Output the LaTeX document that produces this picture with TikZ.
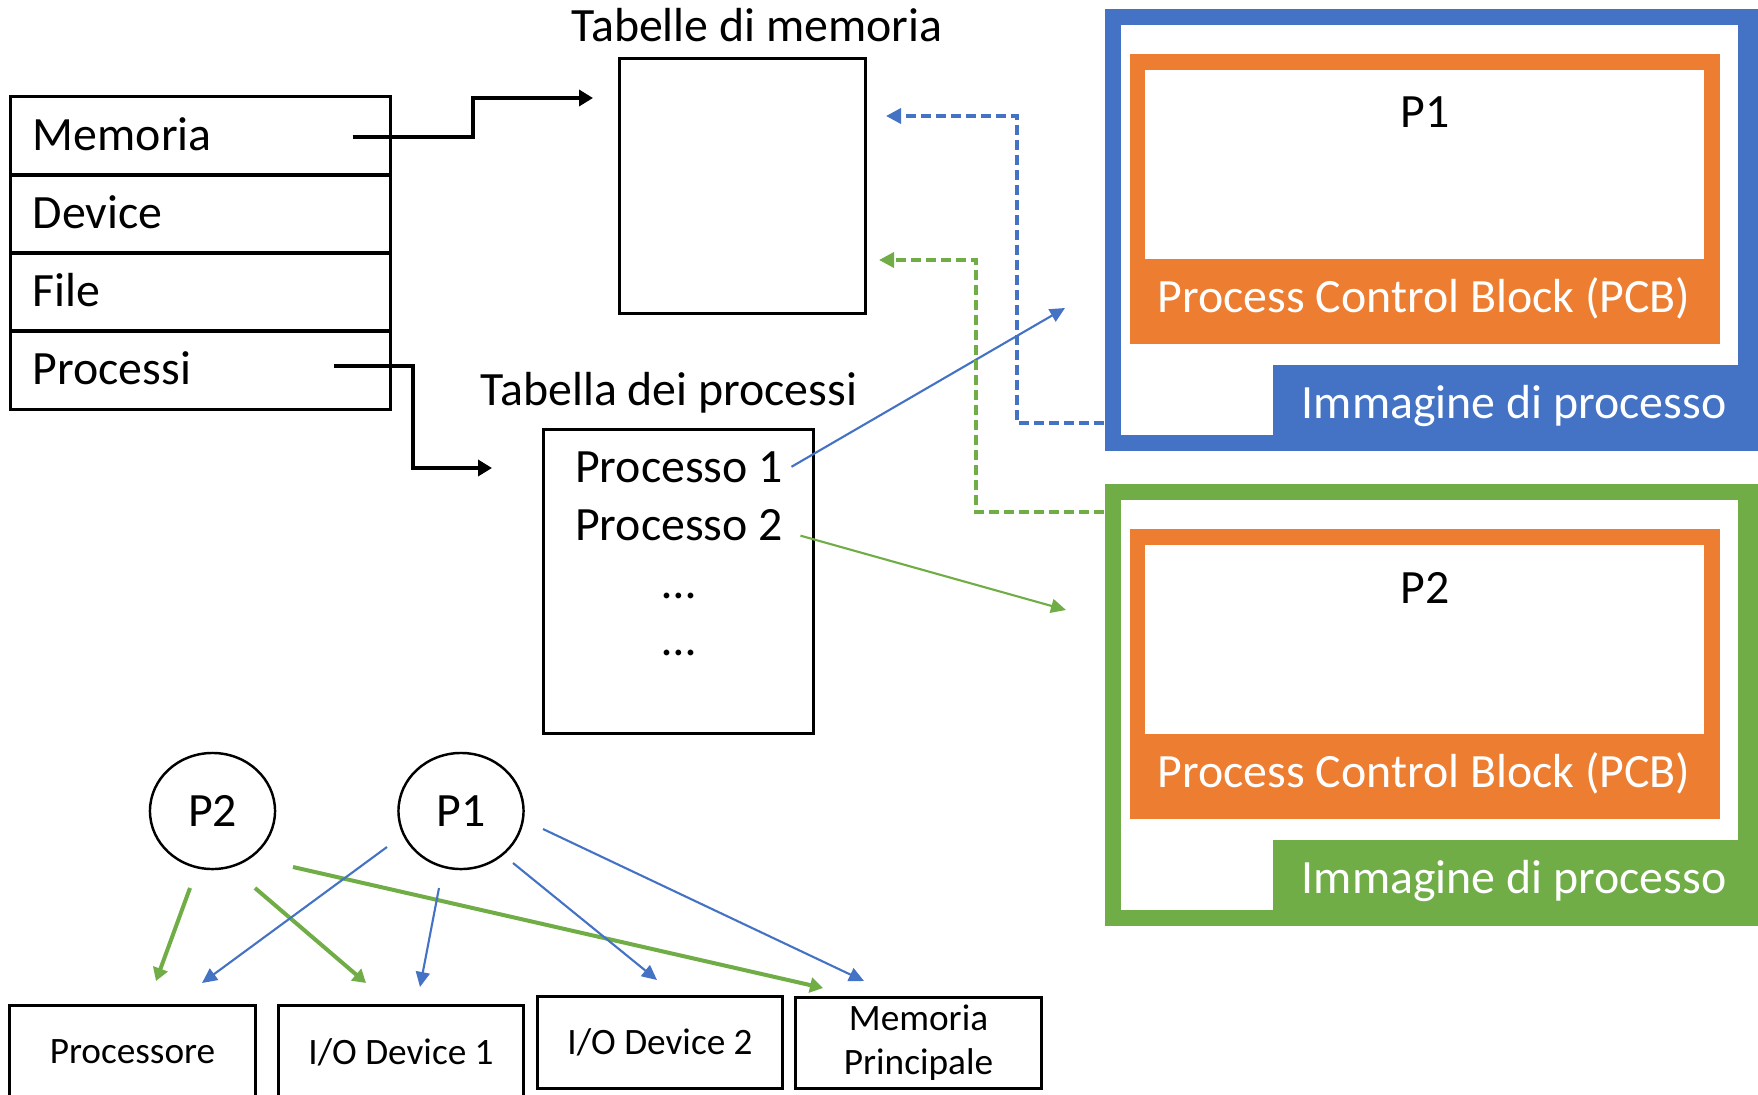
\documentclass[tikz,border=0pt]{standalone}
\usepackage{fontspec}
\setmainfont{Carlito}
\usepackage{xcolor}
\usetikzlibrary{arrows.meta,positioning,calc,shapes.geometric}
\definecolor{pblue}{HTML}{4472C4}
\definecolor{porange}{HTML}{ED7D31}
\definecolor{pgreen}{HTML}{70AD47}

\begin{document}
\begin{tikzpicture}[x=0.01cm, y=-0.01cm,
  bigtxt/.style={font=\fontsize{13.6}{16}\selectfont},
  smalltxt/.style={font=\fontsize{10.6}{12.5}\selectfont},
  row/.style={rectangle, draw, line width=0.85pt, bigtxt, minimum height=0.78cm,
              text width=3.35cm, inner xsep=0.22cm, align=left,
              text height=0.29cm, text depth=0cm},
  tbox/.style={rectangle, draw, line width=0.85pt, inner sep=0pt},
  entry/.style={bigtxt, inner sep=0pt, anchor=base},
  devbox/.style={rectangle, draw, line width=0.85pt, smalltxt, inner sep=0pt,
                 minimum width=2.45cm, align=center},
  proc/.style={ellipse, draw, line width=0.7pt, bigtxt, minimum width=1.25cm,
               minimum height=1.16cm, inner sep=0pt},
  imgframe/.style={rectangle, minimum width=6.53cm, minimum height=4.42cm, inner sep=0pt},
  imglbl/.style={rectangle, minimum width=4.65cm, minimum height=0.70cm, inner sep=0pt},
  pcb/.style={rectangle, fill=porange, minimum width=5.90cm, minimum height=2.90cm, inner sep=0pt},
  wtxt/.style={bigtxt, text=white, inner sep=0pt, anchor=base},
  elbow/.style={-{Triangle[length=0.14cm, width=0.16cm]}, line width=1.1pt},
  thinarr/.style={-{Triangle[length=0.15cm, width=0.14cm]}, line width=0.6pt},
  thickarr/.style={-{Triangle[length=0.13cm, width=0.15cm]}, line width=1.14pt, pgreen},
  dashlink/.style={-{Triangle[length=0.15cm, width=0.15cm]}, line width=1pt,
                   dash pattern=on 0.1cm off 0.05cm},
]
\useasboundingbox (0,0) rectangle (1758,1094);

% tabelle del sistema operativo
\node[row] (mem) at (200.5,136) {Memoria};
\node[row] (dev) at (200.5,214) {Device};
\node[row] (fil) at (200.5,292) {File};
\node[row] (pro) at (200.5,370) {Processi};

\node[tbox, minimum width=2.45cm, minimum height=2.54cm] (tmem) at (742.5,186) {};
\node[entry] (tmemlbl) at (757,42) {Tabelle di memoria};

\node[tbox, minimum width=2.69cm, minimum height=3.03cm] (tproc) at (678.5,581.5) {};
\node[entry] (tproclbl) at (669,405) {Tabella dei processi};
\node[entry] (e1) at (679,482) {Processo 1};
\node[entry] (e2) at (679,540) {Processo 2};
\node[entry] (d1) at (679,598) {…};
\node[entry] (d2) at (679,655) {…};

\coordinate (tmemin) at (593,98);
\coordinate (tprocin) at (492,468);
\draw[elbow] ($(mem.east)+(-39,1)$) -| (473,98) -- (tmemin);
\draw[elbow] ($(pro.east)+(-58,-4)$) -| (413,468) -- (tprocin);

% immagine di processo P1
\node[imgframe, fill=pblue] (img1) at (1431.5,230) {};
\fill[white] (1121,25) rectangle (1738,435);
\node[imglbl, fill=pblue] (lbl1) at (1505.5,400) {};
\node[wtxt] at (1514,418) {Immagine di processo};
\node[pcb] (pcb1) at (1425,199) {};
\fill[white] (1145,70) rectangle (1704,259);
\node[wtxt] at (1424,312) {Process Control Block (PCB)};
\node[entry] (n1) at (1425,128) {P1};

% immagine di processo P2
\node[imgframe, fill=pgreen] (img2) at (1431.5,705) {};
\fill[white] (1121,500) rectangle (1738,910);
\node[imglbl, fill=pgreen] (lbl2) at (1505.5,875) {};
\node[wtxt] at (1514,893) {Immagine di processo};
\node[pcb] (pcb2) at (1425,674) {};
\fill[white] (1145,545) rectangle (1704,734);
\node[wtxt] at (1424,787) {Process Control Block (PCB)};
\node[entry] (n2) at (1425,603) {P2};

% collegamenti tabella -> immagini
\coordinate (img1in) at (1065,308);
\coordinate (img2in) at (1066,610);
\draw[thinarr, pblue] ([xshift=0.08cm]e1.east) -- (img1in);
\draw[thinarr, pgreen] ($(e2.east)+(17,11)$) -- (img2in);

\coordinate (tmemb) at (886,116);
\coordinate (tmemg) at (879,260);
\draw[dashlink, pblue] (img1.west |- {(0,423)}) -| (1017,116) -- (tmemb);
\draw[dashlink, pgreen] (img2.west |- {(0,512)}) -| (976,260) -- (tmemg);

% processi e risorse
\node[proc] (q2) at (212.5,811) {P2};
\node[proc] (q1) at (461,811) {P1};

\node[devbox, minimum height=0.92cm] (cpu) at (132.5,1052) {Processore};
\node[devbox, minimum height=0.92cm, minimum width=2.44cm] (io1) at (401,1052) {I/O Device 1};
\node[devbox, minimum height=0.91cm, minimum width=2.44cm] (io2) at (660,1042.5) {I/O Device 2};
\node[devbox, minimum height=0.90cm] (ram) at (918.5,1043) {Memoria\\Principale};

\draw[thickarr] (190,888) -- (156,981);
\draw[thickarr] (255,888) -- (366,983);
\draw[thickarr] (293,867) -- (823,988);
\draw[thinarr, pblue] (387,847) -- (202,983);
\draw[thinarr, pblue] (439,888) -- (420,987);
\draw[thinarr, pblue] (513,863) -- (657,980);
\draw[thinarr, pblue] (543,829) -- (864,981);
\end{tikzpicture}
\end{document}
